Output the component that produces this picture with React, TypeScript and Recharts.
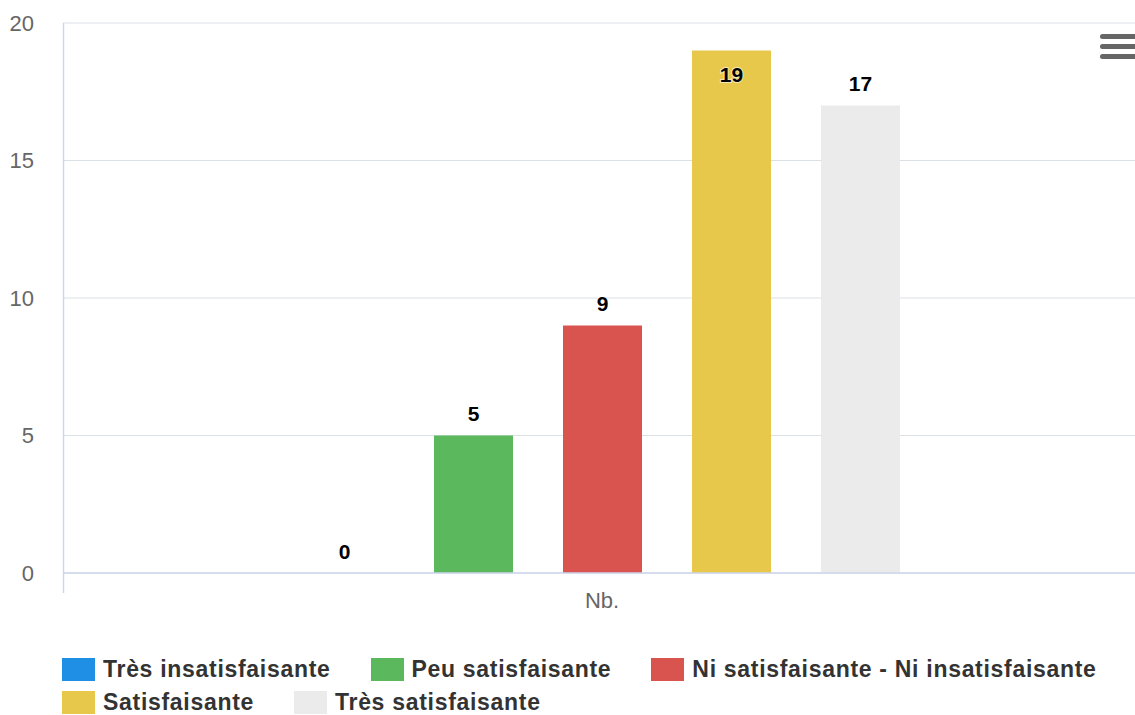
import React from "react";
import {
  Bar,
  BarChart,
  XAxis,
  YAxis,
  CartesianGrid,
  LabelList,
  Rectangle,
  usePlotArea,
} from "recharts";

const categories = ["Nb."];
const seriesNames = [
  "Très insatisfaisante",
  "Peu satisfaisante",
  "Ni satisfaisante - Ni insatisfaisante",
  "Satisfaisante",
  "Très satisfaisante",
];
const seriesValues = [0, 5, 9, 19, 17];
const seriesColors = ["#1f8fe5", "#5cb85c", "#d9534f", "#e8c84a", "#ebebeb"];
const yTicks = [0, 5, 10, 15, 20];

const FONT = '"Liberation Sans", Arial, Helvetica, sans-serif';
const PLOT_TOP = 23;

const chartData = categories.map((name) => {
  const row: Record<string, string | number> = { name };
  seriesNames.forEach((s, i) => {
    row[s] = seriesValues[i];
  });
  return row;
});

// left axis line, runs a bit below the x axis like the original
const AxisFrame = () => {
  const plot = usePlotArea();
  if (!plot) return null;
  return (
    <line
      x1={plot.x + 0.5}
      x2={plot.x + 0.5}
      y1={plot.y}
      y2={plot.y + plot.height + 20}
      stroke="#ccd6eb"
      strokeWidth={1.5}
    />
  );
};

// zero bars get a 1px min size so their label still shows, but draw nothing
const BarShape = (props: any) => {
  if (Number(props.height) < 2) return <g />;
  return <Rectangle {...props} />;
};

const renderValueLabel = (props: any) => {
  const { x, y, width, height, value } = props;
  const cx = Number(x) + Number(width) / 2;
  const top = Number(height) < 2 ? Number(y) + Number(height) : Number(y);
  const above = top - 22;
  // label would be cut by the top of the plot -> put it inside the bar
  const ty = above - 12 < PLOT_TOP ? top + 24 : above;
  return (
    <text
      x={cx}
      y={ty}
      textAnchor="middle"
      dominantBaseline="central"
      fontFamily={FONT}
      fontSize={21}
      fontWeight="bold"
      fill="#000"
      stroke="#fff"
      strokeWidth={2}
      strokeOpacity={0.6}
      paintOrder="stroke"
    >
      {value}
    </text>
  );
};

const LegendBox = () => (
  <div
    style={{
      position: "absolute",
      left: 62,
      top: 656,
      width: 1070,
      display: "flex",
      flexWrap: "wrap",
      columnGap: 40,
      rowGap: 7,
      fontFamily: FONT,
      fontSize: 23,
      letterSpacing: 0.7,
      fontWeight: "bold",
      color: "#333",
    }}
  >
    {seriesNames.map((s, i) => (
      <div key={s} style={{ display: "flex", alignItems: "center", height: 26 }}>
        <span
          style={{
            display: "inline-block",
            width: 33,
            height: 23,
            background: seriesColors[i],
            marginRight: 8,
          }}
        />
        <span>{s}</span>
      </div>
    ))}
  </div>
);

const MenuIcon = () => (
  <div style={{ position: "absolute", left: 1100, top: 34 }}>
    {[0, 10, 20].map((t) => (
      <div
        key={t}
        style={{
          position: "absolute",
          top: t,
          width: 38,
          height: 5,
          borderRadius: 3,
          background: "#666",
        }}
      />
    ))}
  </div>
);

const App = () => {
  return (
    <div
      style={{
        position: "absolute",
        left: 0,
        top: 0,
        width: 1135,
        height: 715,
        overflow: "hidden",
        background: "#fff",
      }}
    >
      <BarChart
        width={1141}
        height={620}
        data={chartData}
        margin={{ top: PLOT_TOP, right: 0, left: 0, bottom: 7 }}
        barSize={79}
        barGap={50}
      >
        <CartesianGrid vertical={false} stroke="#dbe0e5" />
        <XAxis
          dataKey="name"
          height={40}
          axisLine={{ stroke: "#ccd6eb", strokeWidth: 1.5 }}
          tickLine={false}
          tickSize={0}
          tickMargin={19}
          tick={{ fill: "#666", fontSize: 22, fontFamily: FONT }}
        />
        <YAxis
          width={63}
          domain={[0, 20]}
          ticks={yTicks}
          axisLine={false}
          tickLine={false}
          tickSize={0}
          tickMargin={29}
          tick={{ fill: "#666", fontSize: 22, fontFamily: FONT }}
        />
        {seriesNames.map((s, i) => (
          <Bar
            key={s}
            dataKey={s}
            fill={seriesColors[i]}
            minPointSize={1}
            shape={BarShape}
            isAnimationActive={false}
          >
            <LabelList dataKey={s} content={renderValueLabel} />
          </Bar>
        ))}
        <AxisFrame />
      </BarChart>
      <LegendBox />
      <MenuIcon />
    </div>
  );
};

export default App;
